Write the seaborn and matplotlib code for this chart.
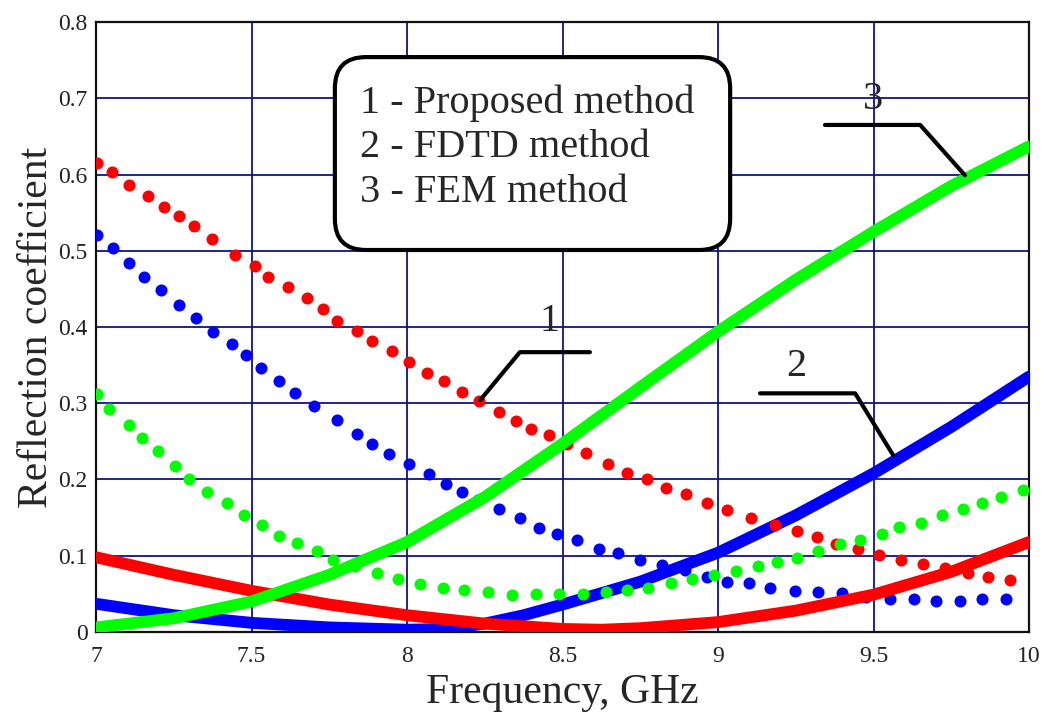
# Reflection coefficient vs frequency: three methods (dots and thick lines)
import numpy as np
import pandas as pd
import seaborn as sns
import matplotlib.pyplot as plt
from matplotlib.patches import FancyBboxPatch

# dotted series
red_dot_x = [7.004, 7.050, 7.106, 7.168, 7.219, 7.266, 7.315, 7.372, 7.448, 7.510,
             7.554, 7.617, 7.678, 7.729, 7.774, 7.840, 7.888, 7.953, 8.007, 8.063,
             8.120, 8.176, 8.232, 8.296, 8.351, 8.400, 8.456, 8.514, 8.575, 8.645,
             8.708, 8.771, 8.834, 8.896, 8.966, 9.030, 9.105, 9.183, 9.253, 9.317,
             9.378, 9.449, 9.519, 9.588, 9.658, 9.730, 9.805, 9.869, 9.939]
red_dot_y = [0.615, 0.603, 0.586, 0.572, 0.557, 0.546, 0.532, 0.515, 0.494, 0.480,
             0.466, 0.452, 0.438, 0.423, 0.408, 0.395, 0.381, 0.369, 0.354, 0.340,
             0.329, 0.315, 0.303, 0.289, 0.277, 0.266, 0.258, 0.247, 0.235, 0.220,
             0.209, 0.201, 0.189, 0.181, 0.169, 0.160, 0.150, 0.140, 0.132, 0.124,
             0.116, 0.109, 0.101, 0.095, 0.089, 0.084, 0.078, 0.072, 0.068]

blue_dot_x = [7.004, 7.056, 7.106, 7.154, 7.210, 7.266, 7.322, 7.377, 7.436, 7.482,
              7.532, 7.588, 7.639, 7.701, 7.774, 7.840, 7.888, 7.943, 8.007, 8.072,
              8.125, 8.178, 8.228, 8.296, 8.363, 8.425, 8.483, 8.548, 8.617, 8.679,
              8.749, 8.819, 8.894, 8.964, 9.030, 9.100, 9.167, 9.248, 9.323, 9.400,
              9.476, 9.553, 9.630, 9.700, 9.778, 9.848, 9.926]
blue_dot_y = [0.521, 0.503, 0.484, 0.466, 0.449, 0.429, 0.412, 0.394, 0.378, 0.363,
              0.346, 0.329, 0.314, 0.297, 0.278, 0.260, 0.246, 0.234, 0.220, 0.207,
              0.194, 0.183, 0.173, 0.161, 0.149, 0.137, 0.129, 0.121, 0.109, 0.104,
              0.094, 0.088, 0.081, 0.072, 0.066, 0.064, 0.058, 0.054, 0.052, 0.051,
              0.046, 0.043, 0.043, 0.041, 0.041, 0.043, 0.043]

green_dot_x = [7.004, 7.043, 7.106, 7.147, 7.198, 7.254, 7.300, 7.356, 7.420, 7.476,
               7.533, 7.589, 7.645, 7.710, 7.763, 7.833, 7.903, 7.972, 8.042, 8.115,
               8.183, 8.261, 8.337, 8.415, 8.490, 8.567, 8.639, 8.708, 8.776, 8.848,
               8.917, 8.987, 9.057, 9.128, 9.191, 9.253, 9.323, 9.392, 9.457, 9.526,
               9.583, 9.652, 9.721, 9.789, 9.848, 9.910, 9.982]
green_dot_y = [0.312, 0.292, 0.272, 0.255, 0.237, 0.218, 0.201, 0.183, 0.169, 0.154,
               0.140, 0.126, 0.117, 0.106, 0.094, 0.086, 0.078, 0.069, 0.063, 0.058,
               0.055, 0.052, 0.049, 0.050, 0.050, 0.050, 0.052, 0.055, 0.058, 0.064,
               0.069, 0.075, 0.080, 0.087, 0.092, 0.097, 0.106, 0.115, 0.121, 0.129,
               0.138, 0.143, 0.153, 0.161, 0.169, 0.177, 0.186]

# solid series
red_line_x = [7.0, 7.25, 7.5, 7.75, 8.0, 8.25, 8.5, 8.625, 8.75, 9.0, 9.25, 9.5, 9.75, 10.0]
red_line_y = [0.098, 0.075, 0.054, 0.036, 0.022, 0.011, 0.004, 0.003, 0.005, 0.013, 0.028, 0.049, 0.079, 0.118]
blue_line_x = [7.0, 7.25, 7.5, 7.75, 8.0, 8.125, 8.25, 8.375, 8.5, 8.75, 9.0, 9.25, 9.5, 9.75, 10.0]
blue_line_y = [0.037, 0.022, 0.012, 0.006, 0.003, 0.004, 0.011, 0.022, 0.036, 0.066, 0.104, 0.153, 0.208, 0.269, 0.335]
green_line_x = [7.0, 7.25, 7.5, 7.75, 8.0, 8.25, 8.5, 8.75, 9.0, 9.25, 9.5, 9.75, 10.0]
green_line_y = [0.006, 0.018, 0.040, 0.075, 0.118, 0.177, 0.247, 0.321, 0.394, 0.462, 0.525, 0.585, 0.637]

legend_lines = ["1 - Proposed method", "2 - FDTD method", "3 - FEM method"]
xticks = [7, 7.5, 8, 8.5, 9, 9.5, 10]
xtick_labels = ["7", "7.5", "8", "8.5", "9", "9.5", "10"]
yticks = [0, 0.1, 0.2, 0.3, 0.4, 0.5, 0.6, 0.7, 0.8]
ytick_labels = ["0", "0.1", "0.2", "0.3", "0.4", "0.5", "0.6", "0.7", "0.8"]

sns.set_style("white")
plt.rcParams['font.family'] = ['Liberation Serif', 'DejaVu Serif']

fig = plt.figure(figsize=(10.54, 7.15), dpi=100)
ax = fig.add_axes([0.0911, 0.1161, 0.8852, 0.8531])

dot_size = 75
sns.scatterplot(x=blue_dot_x, y=blue_dot_y, color='#0000ff', s=dot_size, linewidth=0, ax=ax, zorder=3)
sns.lineplot(x=blue_line_x, y=blue_line_y, color='#0000ff', linewidth=8.5, ax=ax, zorder=4)
sns.scatterplot(x=red_dot_x, y=red_dot_y, color='#ff0000', s=dot_size, linewidth=0, ax=ax, zorder=5)
sns.scatterplot(x=green_dot_x, y=green_dot_y, color='#00ff00', s=dot_size, linewidth=0, ax=ax, zorder=5)
sns.lineplot(x=red_line_x, y=red_line_y, color='#ff0000', linewidth=8.5, ax=ax, zorder=6)
sns.lineplot(x=green_line_x, y=green_line_y, color='#00ff00', linewidth=8.5, ax=ax, zorder=7)

ax.set_xlim(7, 10)
ax.set_ylim(0, 0.8)
ax.set_xticks(xticks)
ax.set_xticklabels(xtick_labels)
ax.set_yticks(yticks)
ax.set_yticklabels(ytick_labels)
ax.tick_params(length=0, labelsize=17, labelcolor='#222222')
ax.tick_params(axis='x', pad=10)
ax.tick_params(axis='y', pad=6)
ax.grid(True, color='#10108a', linewidth=1.3)
ax.set_axisbelow(True)
for sp in ax.spines.values():
    sp.set_color('#111111')
    sp.set_linewidth(1.6)

ax.set_xlabel("Frequency, GHz", fontsize=30, labelpad=5)
ax.set_ylabel("Reflection coefficient", fontsize=30, labelpad=2)

# rounded legend box
box = FancyBboxPatch((7.768, 0.501), 9.039 - 7.768, 0.754 - 0.501,
                     boxstyle="round,pad=0,rounding_size=0.1",
                     mutation_aspect=311 / 762.5,
                     facecolor='white', edgecolor='black', linewidth=3, zorder=8)
ax.add_patch(box)
for i, txt in enumerate(legend_lines):
    ax.text(7.849, 0.694 - i * 0.059, txt, fontsize=29, va='center', ha='left', zorder=9)

# leader lines with numbers
ax.plot([8.235, 8.363, 8.588], [0.304, 0.367, 0.367], color='black', linewidth=3, zorder=9)
ax.text(8.457, 0.407, "1", fontsize=29, ha='center', va='center', zorder=9)
ax.plot([9.135, 9.441, 9.563], [0.313, 0.313, 0.232], color='black', linewidth=3, zorder=9)
ax.text(9.251, 0.348, "2", fontsize=29, ha='center', va='center', zorder=9)
ax.plot([9.344, 9.650, 9.794], [0.665, 0.665, 0.599], color='black', linewidth=3, zorder=9)
ax.text(9.498, 0.698, "3", fontsize=29, ha='center', va='center', zorder=9)

plt.savefig("out.png", dpi=100)
